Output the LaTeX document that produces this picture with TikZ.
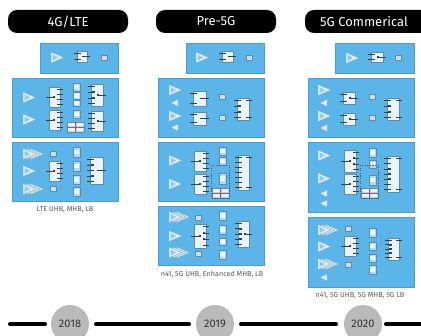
\documentclass[tikz,border=0pt]{standalone}
\usepackage{fontspec}
\setmainfont{Fira Sans}
\definecolor{panelblue}{HTML}{5BB5E8}
\definecolor{paneledge}{HTML}{4C9CCB}
\definecolor{partfill}{HTML}{EAF3F8}
\definecolor{partedge}{HTML}{5E8CA8}
\definecolor{tickc}{HTML}{33414A}
\tikzset{
 x=1pt,y=-1pt,
 panel/.style={fill=panelblue,draw=paneledge,line width=.6pt},
 pill/.style={fill=black,rounded corners=9pt,text=white,minimum height=23pt,inner sep=0pt,font=\fontsize{13}{14}\selectfont},
 part/.style={fill=partfill,draw=partedge,line width=.5pt},
 amppart/.style={fill=partfill!90!panelblue,draw=partedge!70!partfill,line width=.4pt,line join=miter},
 ampcore/.style={fill=panelblue!65!partfill,draw=none},
 tick/.style={draw=tickc,line width=.5pt},
 yearnode/.style={circle,fill=black!27,minimum size=38pt,inner sep=0pt,font=\fontsize{11}{12}\selectfont,text=black!80},
 caption/.style={font=\fontsize{7.2}{8}\selectfont,text=black!65,inner sep=0pt},
 timeline/.style={draw=black,line width=4pt,line cap=round},
 dashbox/.style={draw=partedge!70!black,dashed,line width=.45pt,dash pattern=on 1.3pt off 1.3pt}
}
\newcommand\Pn[4]{\draw[panel] (#1,#2) rectangle (#3,#4);}
\newcommand\Amp[3]{%
 \foreach \k in {#3,...,1}{%
  \pgfmathsetmacro\ax{#1+(\k-1)*3.8}
  \draw[amppart] (\ax,#2-5.5) -- (\ax+13,#2) -- (\ax,#2+5.5) -- cycle;
  \fill[ampcore] (\ax+1.5,#2-3) -- (\ax+7,#2) -- (\ax+1.5,#2+3) -- cycle;
 }}
\newcommand\Tri[2]{\draw[amppart] (#1+7,#2-3.5) -- (#1,#2) -- (#1+7,#2+3.5) -- cycle;}
\newcommand\Fl[2]{\draw[part,fill=partfill!80!gray] (#1,#2) rectangle ++(6,5.5);}
\newcommand\Cl[3]{\draw[part,fill=partfill!60!panelblue] (#1,#2) rectangle (#1+7,#3);
 \fill[partfill] (#1+1.3,{(#2+#3)/2+2.2}) rectangle (#1+5.7,{(#2+#3)/2-2.2});}
\newcommand\Qd[2]{\draw[part,fill=partfill!60!panelblue] (#1,#2) rectangle ++(17,10);
 \foreach \a/\b in {1/1,9.5/1,1/5.5,9.5/5.5}{\fill[partfill] (#1+\a,#2+\b) rectangle ++(6.5,3.5);}
 \draw[red!35!partedge,line width=.35pt] (#1+8.5,#2) -- ++(0,10) (#1,#2+5) -- ++(17,0);}
\newcommand\Sw[6]{\draw[part] (#1,#2) rectangle (#3,#4);
 \pgfmathsetmacro\ym{(#2+#4)/2}
 \pgfmathsetmacro\xm{(#1+#3)/2}
 \ifnum#5=1
  \draw[tick] (#1-3,\ym) -- (\xm,\ym);
  \fill[tickc] (\xm-1.5,\ym-.8) rectangle ++(2.4,1.6);
 \else
  \foreach \k in {1,...,#5}{%
   \pgfmathsetmacro\yy{\ym+(\k-(#5+1)/2)*(#4-#2-5)/(#5-1)}
   \draw[tick] (#1-3,\yy) -- (#1+3.5,\yy);
   \fill[tickc] (#1+1,\yy-.8) rectangle ++(2.5,1.6);}
 \fi
 \ifnum#6=1
  \draw[tick] (\xm,\ym) -- (#3+3,\ym);
  \fill[tickc] (\xm,\ym-.8) rectangle ++(2.4,1.6);
 \else
  \foreach \k in {1,...,#6}{%
   \pgfmathsetmacro\yy{\ym+(\k-(#6+1)/2)*(#4-#2-5)/(#6-1)}
   \draw[tick] (#3-3.5,\yy) -- (#3+3,\yy);
   \fill[tickc] (#3-3.5,\yy-.8) rectangle ++(2.5,1.6);}
 \fi}
\begin{document}
\begin{tikzpicture}
\useasboundingbox (0,0) rectangle (421,336);
\fill[white] (0,0) rectangle (421,336);
\node[pill,minimum width=120pt] (h1) at (68,21.5) {4G/LTE};
\node[pill,minimum width=120pt] (h2) at (216,21.5) {Pre-5G};
\begin{scope}
\clip (300,0) rectangle (421,40);
\node[pill,minimum width=130pt] (h3) at (370,21.5) {};
\end{scope}
\node[text=white,inner sep=0pt,font=\fontsize{13}{14}\selectfont] (h3t) at (364,22) {5G Commerical};
% 4G
\Pn{40}{43}{118}{73}
\Amp{51}{57.5}{1} \Sw{77}{51}{87}{62}{2}{1} \Fl{101}{55}
\Pn{12}{78}{118}{137}
\Amp{23}{97.5}{1} \Amp{23}{119.5}{1}
\Sw{49}{87}{60}{107}{1}{4} \Sw{49}{110}{60}{130}{1}{4}
\Cl{73}{83}{91} \Cl{73}{92}{99} \Cl{73}{100}{106} \Cl{73}{110}{118} \Qd{67}{122}
\Sw{91}{84}{103}{106}{4}{1} \Sw{91}{111}{103}{131}{4}{1}
\Pn{12}{142}{118}{201}
\Amp{23}{154}{3} \Amp{23}{171}{1} \Amp{23}{189}{3}
\Fl{50}{151} \Fl{50}{186}
\Sw{49}{161}{60}{181}{1}{4}
\Cl{73}{147}{157} \Cl{73}{161}{171} \Cl{73}{175}{184} \Cl{73}{187}{196}
\Sw{90}{157}{103}{184}{5}{1}
\node[caption] (c1) at (65,210) {LTE UHB, MHB, LB};
% Pre-5G
\Pn{186}{43}{264}{73}
\Amp{196}{57.5}{1} \Sw{222}{51}{233}{62}{2}{1} \Fl{246}{55}
\Pn{158}{78}{264}{137}
\Amp{169}{90}{1} \Tri{171}{103} \Amp{169}{116}{1} \Tri{171}{127.5}
\Sw{193}{91}{206}{106}{2}{1} \Sw{193}{112}{206}{125}{2}{1}
\Fl{219}{94} \Fl{219}{115}
\Sw{237}{98}{249}{120}{4}{2}
\Pn{158}{142}{264}{201}
\Amp{169}{160.5}{1} \Amp{169}{184}{1}
\Sw{194}{151}{206}{171}{1}{4} \Sw{194}{174}{206}{194}{1}{4}
\Cl{219}{147}{155} \Cl{219}{157}{165} \Cl{219}{173}{184} \Qd{212}{188}
\draw[dashbox] (211,165) rectangle (229,198);
\Sw{238}{155}{249}{190}{7}{2}
\Pn{158}{206}{264}{265}
\Amp{169}{217}{3} \Amp{169}{236}{1} \Amp{169}{252.5}{3}
\Fl{195}{215} \Fl{195}{251}
\Sw{194}{224}{206}{248}{1}{4}
\Cl{219}{211}{220} \Cl{219}{225}{234} \Cl{219}{238}{245} \Cl{219}{250}{259}
\Sw{238}{221}{249}{247}{5}{1}
\node[caption] (c2) at (212,274) {n41, 5G UHB, Enhanced MHB, LB};
% 5G
\Pn{335}{43}{414}{73}
\Amp{346}{58}{1} \Sw{371}{52}{383}{62}{2}{1} \Fl{395}{55}
\Pn{308}{78}{414}{137}
\Amp{318}{90}{1} \Tri{320}{103} \Amp{318}{116}{1} \Tri{320}{128}
\Sw{343}{92}{355}{104}{2}{1} \Sw{343}{113}{355}{125}{2}{1}
\Fl{369}{94} \Fl{369}{115}
\Sw{387}{98}{399}{120}{4}{2}
\Pn{308}{142}{414}{212}
\Amp{318}{155.5}{1} \Amp{318}{178.5}{1} \Tri{320}{193.5} \Tri{320}{203.5}
\Sw{344}{150}{356}{172}{1}{4} \Sw{344}{174}{356}{194}{1}{4}
\Cl{369}{148}{157} \Cl{369}{160}{168} \Cl{369}{175}{185} \Qd{361}{188}
\draw[dashbox] (360,165) rectangle (378,198);
\Sw{387}{156}{399}{192}{7}{2}
\Pn{308}{217}{414}{287}
\Amp{318}{230}{3} \Amp{318}{246.5}{1} \Amp{318}{264}{3} \Tri{320}{277.5}
\Fl{345}{226} \Fl{345}{262}
\Sw{344}{236}{356}{256}{1}{4}
\Cl{369}{228}{237} \Cl{369}{242}{250} \Cl{369}{254}{262} \Cl{369}{265}{274}
\Sw{388}{238}{399}{260}{5}{2}
\node[caption] (c3) at (360,296) {n41, 5G UHB, 5G MHB, 5G LB};
% timeline
\node[yearnode] (y1) at (70,324) {2018};
\node[yearnode] (y2) at (215,324) {2019};
\node[yearnode] (y3) at (363,324) {2020};
\coordinate (tl) at (10,324.5);
\coordinate (tr) at (423,324.5);
\draw[timeline] (tl) -- (45,324.5);
\draw[timeline] (96,324.5) -- (189,324.5);
\draw[timeline] (241,324.5) -- (336,324.5);
\draw[timeline] (386,324.5) -- (tr);
\end{tikzpicture}
\end{document}
